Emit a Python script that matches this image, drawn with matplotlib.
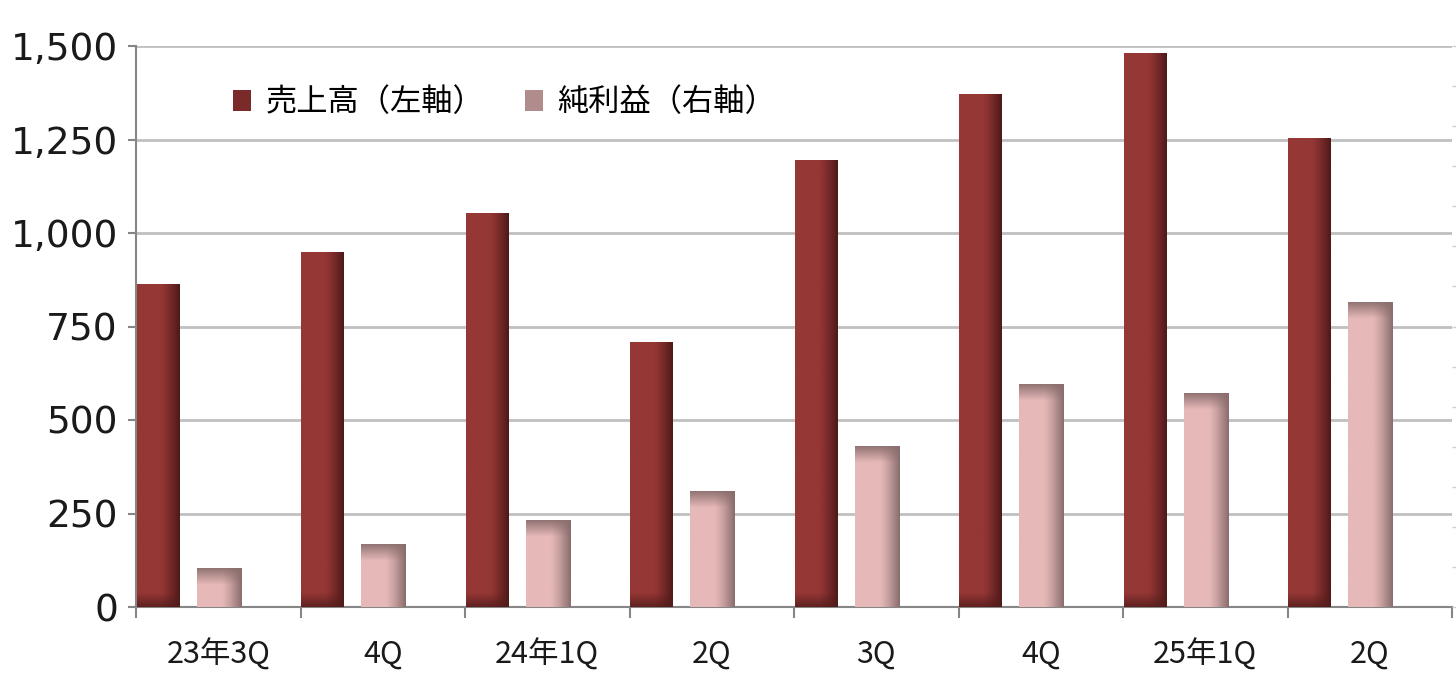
import matplotlib
matplotlib.use('Agg')
import matplotlib.pyplot as plt, numpy as np
from matplotlib.patches import Patch
from matplotlib.ticker import FuncFormatter

# data
labels = ['23年3Q', '4Q', '24年1Q', '2Q', '3Q', '4Q', '25年1Q', '2Q']
sales = [861, 949, 1053, 708, 1195, 1369, 1481, 1254]          # left axis
profit = [9.5, 15.7, 21.7, 28.7, 40.1, 55.6, 53.4, 76.1]        # right axis

jp = ['Noto Sans CJK JP', 'DejaVu Sans']

W, H = 1456, 690
fig = plt.figure(figsize=(W / 100, H / 100), dpi=100)
ax = fig.add_axes([136 / W, 1 - 607 / H, (1452 - 136) / W, (607 - 46) / H])
ax2 = ax.twinx()

L_MAX, R_MAX = 1500, 140
px_per_unit = (607 - 46) / L_MAX


def to_rgb(h):
    return np.array(matplotlib.colors.to_rgb(h))


def bar_img(base, edge, band, n_rows, band_px, band_top, band_a):
    base, edge, band = to_rgb(base), to_rgb(edge), to_rgb(band)
    x = np.linspace(0, 1, 40)
    t = np.clip((x - 0.55) / 0.45, 0, 1) ** 1.3
    row = base[None, :] * (1 - t)[:, None] + edge[None, :] * t[:, None]
    n_rows = max(int(n_rows), 2)
    img = np.tile(row[None, :, :], (n_rows, 1, 1))
    y = np.arange(n_rows)
    dist = y if band_top else (n_rows - 1 - y)
    s = np.clip(1 - dist / band_px, 0, 1) * band_a
    img = img * (1 - s)[:, None, None] + band[None, None, :] * s[:, None, None]
    return img


# sales bars (left axis)
for i, v in enumerate(sales):
    x0, x1 = i + 0.006, i + 0.262
    img = bar_img('#953735', '#4e1918', '#531c1b', v * px_per_unit, 14, False, 0.8)
    ax.imshow(img, extent=(x0, x1, 0, v), aspect='auto', origin='upper', zorder=3)

# profit bars (right axis)
for i, v in enumerate(profit):
    x0, x1 = i + 0.37, i + 0.64
    hpx = v / R_MAX * (607 - 46)
    img = bar_img('#e6b9b8', '#8a6d6d', '#8a6d6d', hpx, 16, True, 0.9)
    ax2.imshow(img, extent=(x0, x1, 0, v), aspect='auto', origin='upper', zorder=3)

ax.set_xlim(0, 8)
ax.set_ylim(0, L_MAX)
ax2.set_xlim(0, 8)
ax2.set_ylim(0, R_MAX)

# left axis
ax.set_yticks(np.arange(0, 1501, 250))
ax.yaxis.set_major_formatter(FuncFormatter(lambda v, p: f'{int(v):,}'))
ax.tick_params(axis='y', length=6, width=1.5, color='#868686', pad=7,
               labelsize=27, labelcolor='#1a1a1a')
ax.grid(axis='y', color='#c0c0c0', linewidth=2)
ax.set_axisbelow(True)

# x axis: ticks at group edges, labels in the middle
ax.set_xticks(np.arange(0, 9))
ax.set_xticklabels([])
ax.set_xticks(np.arange(8) + 0.5, minor=True)
ax.set_xticklabels(labels, minor=True, family=jp, fontsize=22, color='#1a1a1a')
ax.tick_params(axis='x', which='major', length=8, width=1.5, color='#868686')
ax.tick_params(axis='x', which='minor', length=0, pad=23)

for s in ['top', 'right']:
    ax.spines[s].set_visible(False)
for s in ['left', 'bottom']:
    ax.spines[s].set_color('#868686')
    ax.spines[s].set_linewidth(1.5)

# right axis: tick marks only
for s in ax2.spines.values():
    s.set_visible(False)
ax2.set_yticks(np.arange(0, R_MAX + 1, 10))
ax2.set_yticklabels([])
ax2.tick_params(axis='y', length=3, width=1, color='#d0d0d0')

handles = [Patch(facecolor='#7a2a29', edgecolor='none'),
           Patch(facecolor='#b08c8c', edgecolor='none')]
leg = ax2.legend(handles, ['売上高（左軸）', '純利益（右軸）'], ncol=2, frameon=False,
                 loc='upper left', bbox_to_anchor=(0.052, 0.978),
                 prop={'family': jp, 'size': 22.5}, handlelength=0.6, handleheight=0.7,
                 handletextpad=0.45, columnspacing=1.3)

fig.savefig('out.png', dpi=100, facecolor='white')
